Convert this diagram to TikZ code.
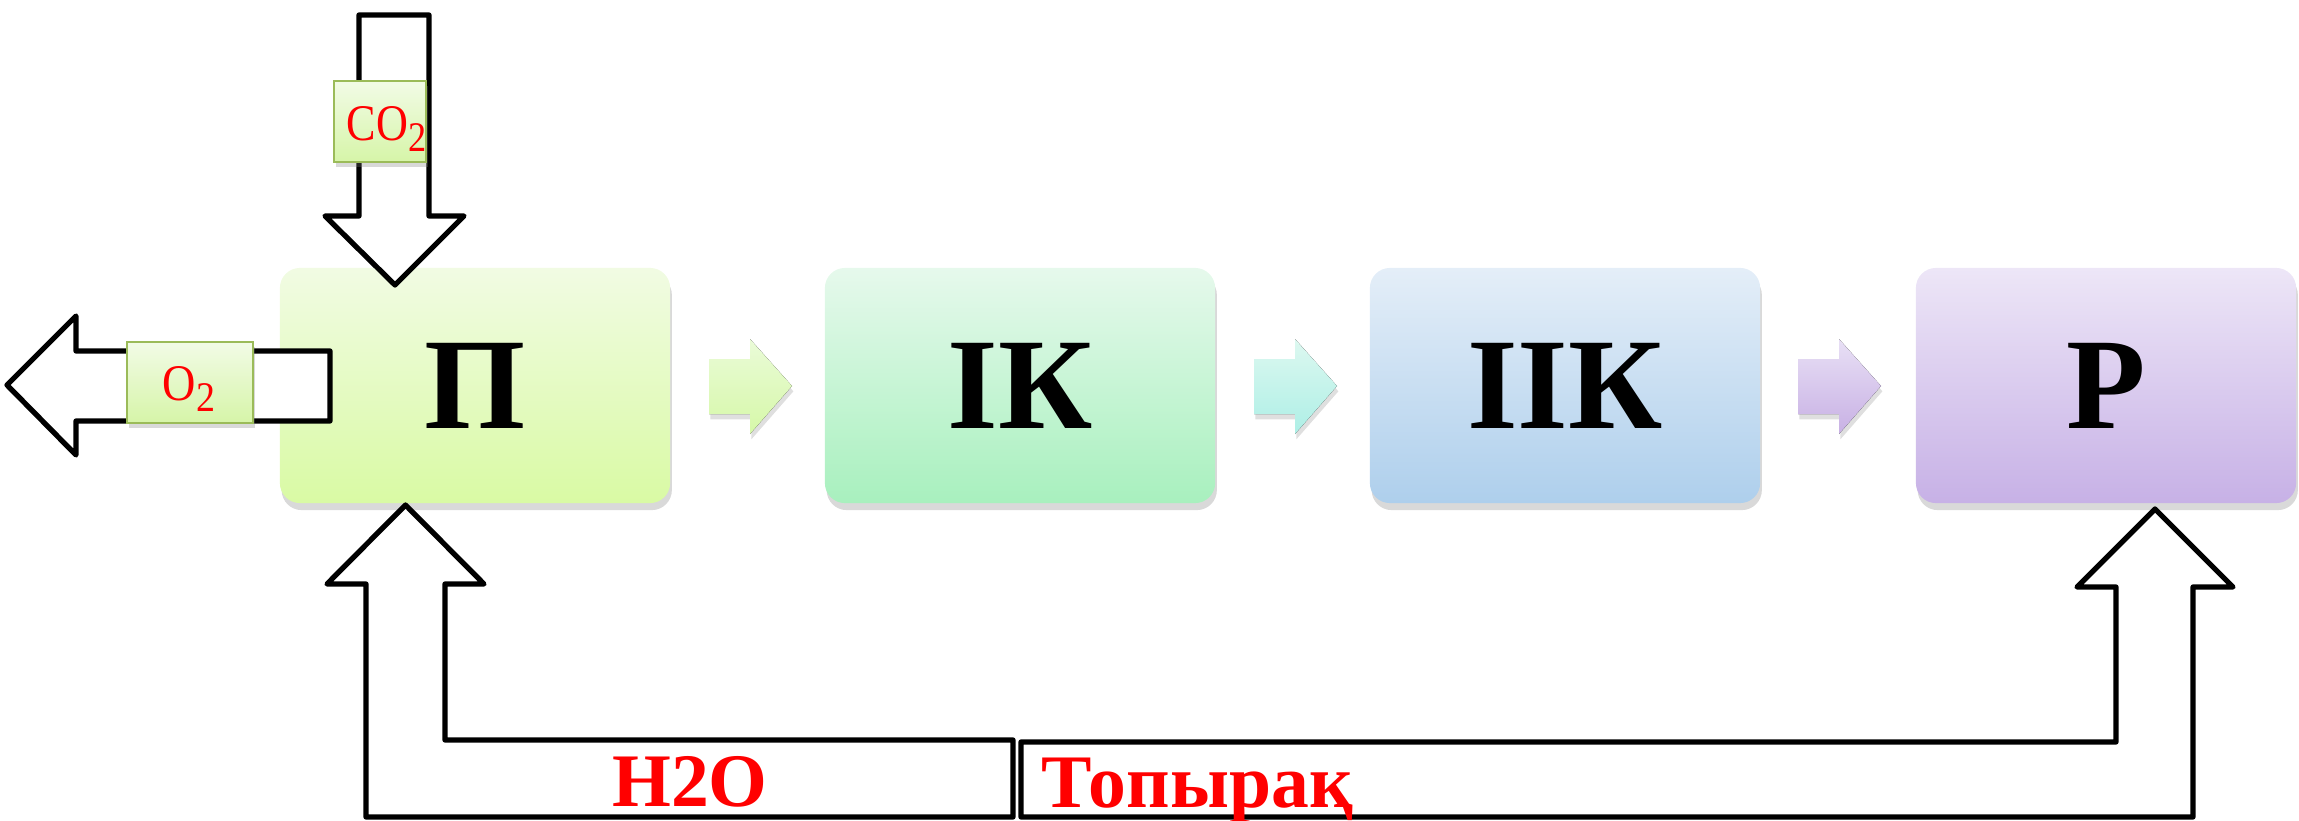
\documentclass[tikz,border=0pt]{standalone}
\usepackage{fontspec}
\setmainfont{Liberation Serif}
\usetikzlibrary{shadows,calc}
\definecolor{pTop}{HTML}{F1FBE3}\definecolor{pBot}{HTML}{D9FAA4}
\definecolor{kTop}{HTML}{E6F9EC}\definecolor{kBot}{HTML}{A8F0BE}
\definecolor{qTop}{HTML}{E4EEF8}\definecolor{qBot}{HTML}{AECFEC}
\definecolor{rTop}{HTML}{EDE6F7}\definecolor{rBot}{HTML}{C7B1E6}
\definecolor{aTop}{HTML}{EAFBD8}\definecolor{aBot}{HTML}{D6F8A8}
\definecolor{bTop}{HTML}{DDF8F0}\definecolor{bBot}{HTML}{ADEFE6}
\definecolor{cTop}{HTML}{E8E0F5}\definecolor{cBot}{HTML}{C8B0E4}
\definecolor{lTop}{HTML}{F2FBE6}\definecolor{lBot}{HTML}{D6F5A8}
\definecolor{lEdge}{HTML}{9BBB59}
\newcommand{\chemsub}[1]{\raisebox{-0.22em}{\fontsize{12}{12}\selectfont #1}}
\begin{document}
\begin{tikzpicture}[x=0.01cm,y=-0.01cm,
  stagebox/.style={rounded corners=0.2cm, minimum width=3.9cm, minimum height=2.35cm,
    inner sep=0pt, font=\fontsize{37}{37}\selectfont\bfseries,
    drop shadow={shadow xshift=0.5pt, shadow yshift=-2pt, opacity=0.3}},
  flowarrow/.style={drop shadow={shadow xshift=0.4pt, shadow yshift=-1.5pt, opacity=0.25}},
  hollow/.style={draw=black, line width=1.5pt, fill=white, line join=round},
  tagbox/.style={draw=lEdge, line width=0.6pt, top color=lTop, bottom color=lBot,
    minimum height=0.81cm, inner sep=0pt,
    drop shadow={shadow xshift=0.6pt, shadow yshift=-1.5pt, opacity=0.3}},
  tagtext/.style={text=red, font=\fontsize{14.6}{14.6}\selectfont, inner sep=0pt},
  flowtext/.style={text=red, font=\fontsize{21.5}{21.5}\selectfont\bfseries, inner sep=0pt}]
\useasboundingbox (0,0) rectangle (2299,821);

% stage boxes
\node[stagebox, top color=pTop, bottom color=pBot] (nP) at (475,385.5) {П};
\node[stagebox, top color=kTop, bottom color=kBot] (nIK) at (1020,385.5) {ІК};
\node[stagebox, top color=qTop, bottom color=qBot] (nIIK) at (1565,385.5) {ІІК};
\node[stagebox, top color=rTop, bottom color=rBot, minimum width=3.8cm] (nR) at (2106,385.5) {Р};

% small flow arrows between stages
\fill[flowarrow, top color=aTop, bottom color=aBot]
  (709,359) -- (750,359) -- (750,339) -- (792,386) -- (750,434) -- (750,414) -- (709,414) -- cycle;
\fill[flowarrow, top color=bTop, bottom color=bBot]
  (1254,359) -- (1295,359) -- (1295,339) -- (1337,386) -- (1295,434) -- (1295,414) -- (1254,414) -- cycle;
\fill[flowarrow, top color=cTop, bottom color=cBot]
  (1798,359) -- (1839,359) -- (1839,339) -- (1881,386) -- (1839,434) -- (1839,414) -- (1798,414) -- cycle;

% CO2 arrow into P
\coordinate (co2tip) at (395,285);
\draw[hollow] (359,15) -- (429,15) -- (429,216) -- (464,216) -- (co2tip) -- (325,216) -- (359,216) -- cycle;
% O2 arrow out of P
\coordinate (o2tip) at (7,385);
\draw[hollow] (330,351) -- (76,351) -- (76,316) -- (o2tip) -- (76,455) -- (76,421) -- (330,421) -- cycle;
% H2O arrow into P
\coordinate (h2otip) at (405.5,505);
\draw[hollow] (h2otip) -- (484,584) -- (445,584) -- (445,740) -- (1013,740) -- (1013,817)
  -- (366,817) -- (366,584) -- (327,584) -- cycle;
% soil arrow into R
\coordinate (soiltip) at (2155,509);
\draw[hollow] (1021,742) -- (2116,742) -- (2116,587) -- (2077,587) -- (soiltip) -- (2233,587)
  -- (2193,587) -- (2193,817) -- (1021,817) -- cycle;

% labels
\node[tagbox, minimum width=0.92cm] (co2box) at (380,121.5) {};
\node[tagtext, anchor=base west] (co2) at (346,140) {\scalebox{0.86}[1]{CO\chemsub{2}}};
\node[tagbox, minimum width=1.26cm] (o2box) at (190,382.5) {};
\node[tagtext, anchor=base west] (o2) at (162,400) {\scalebox{0.9}[1]{O\chemsub{2}}};
\node[flowtext, anchor=base] (h2o) at (690,806) {H2O};
\node[flowtext, anchor=base west] (soil) at (1041,807) {Топырақ};
\end{tikzpicture}
\end{document}
